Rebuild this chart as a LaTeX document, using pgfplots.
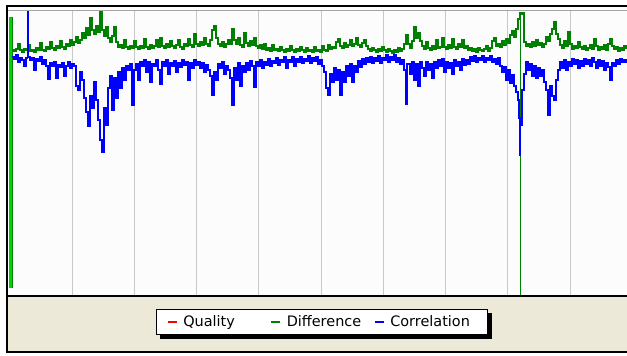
\documentclass[border=0pt]{standalone}
\usepackage{pgfplots}
\pgfplotsset{compat=1.18}
\usepackage{pgfplotstable}
\usepackage{fontspec}
\newfontfamily\legfont{DejaVu Sans}
\definecolor{beige}{RGB}{236,233,216}
\definecolor{gridgray}{RGB}{200,200,200}
\definecolor{diffgreen}{RGB}{0,128,0}
\definecolor{brightgreen}{RGB}{0,210,0}
\definecolor{corrblue}{RGB}{0,0,255}
\definecolor{qualred}{RGB}{255,0,0}
\pgfdeclarelayer{bg}
\pgfdeclarelayer{shadow}
\pgfsetlayers{bg,shadow,main}

\pgfplotstableread{
x y
12 50
14 51
16 49
18 44
20 50
22 52
24 49
26 50
28 45
30 51
32 50
34 52
36 48
38 50
40 43
42 50
44 51
46 47
48 49
50 42
52 48
54 50
56 46
58 48
60 41
62 47
64 49
66 44
68 46
70 40
72 45
74 42
76 37
78 43
80 40
82 33
84 38
86 28
88 35
90 18
92 30
94 34
96 26
98 32
100 12
102 30
104 36
106 27
108 38
110 42
112 36
114 27
116 42
118 47
120 45
122 48
124 40
126 47
128 49
130 46
132 48
134 41
136 47
138 49
140 46
142 48
144 39
146 47
148 49
150 45
152 48
154 46
156 40
158 47
160 38
162 46
164 48
166 44
168 47
170 41
172 46
174 48
176 45
178 40
180 47
182 49
184 44
186 46
188 39
190 45
192 47
194 34
196 44
198 46
200 42
202 45
204 38
206 44
208 46
210 40
212 30
214 26
216 38
218 44
220 46
222 42
224 47
226 44
228 40
230 44
232 29
234 40
236 44
238 38
240 45
242 47
244 33
246 43
248 46
250 41
252 45
254 38
256 46
258 48
260 45
262 49
264 44
266 50
268 48
270 51
272 45
274 50
276 49
278 51
280 47
282 50
284 52
286 49
288 51
290 46
292 50
294 52
296 49
298 51
300 47
302 50
304 52
306 48
308 51
310 50
312 52
314 47
316 51
318 50
320 52
322 46
324 50
326 51
328 45
330 49
332 47
334 48
336 42
338 39
340 46
342 48
344 43
346 47
348 45
350 40
352 46
354 44
356 38
358 45
360 47
362 43
364 40
366 46
368 49
370 51
372 48
374 50
376 52
378 49
380 51
382 47
384 50
386 52
388 49
390 51
392 53
394 50
396 52
398 48
400 51
402 49
404 44
406 35
408 44
410 48
412 41
414 27
416 38
418 33
420 41
422 46
424 49
426 42
428 48
430 50
432 46
434 49
436 40
438 48
440 47
442 38
444 47
446 49
448 45
450 48
452 39
454 47
456 49
458 44
460 47
462 40
464 48
466 46
468 50
470 48
472 51
474 49
476 52
478 48
480 50
482 51
484 49
486 46
488 51
490 48
492 41
494 38
496 46
498 44
500 47
502 41
504 45
506 39
508 43
510 35
512 31
514 37
516 29
518 19
519.3 13
520.2 296
520.8 13
521.5 14
523 13
524 42
526 46
528 44
530 47
532 42
534 46
536 40
538 45
540 43
542 47
544 44
546 37
548 41
550 34
552 29
554 22
556 34
558 39
560 45
562 48
564 41
566 46
568 32
570 44
572 49
574 46
576 48
578 42
580 47
582 49
584 46
586 50
588 48
590 45
592 49
594 39
596 46
598 50
600 47
602 49
604 45
606 50
608 44
610 39
612 46
614 49
616 47
618 51
620 48
622 50
624 46
626 49
}\diffdata

\pgfplotstableread{
x y
12 57
14 59
16 55
18 62
20 58
22 60
24 66
26 58
27.5 57
27.8 12
28.1 57
30 60
32 58
34 70
36 59
38 61
40 57
42 64
44 60
46 66
48 79
50 63
52 66
54 62
56 78
58 65
60 67
62 63
64 76
66 66
68 62
70 68
72 64
74 66
76 86
78 90
80 72
82 80
84 98
86 112
88 126
90 96
92 108
94 82
96 100
98 120
100 140
102 152
104 108
106 125
108 88
110 76
112 110
114 78
116 98
118 72
120 88
122 68
124 80
126 66
128 70
130 64
132 105
134 70
136 64
138 80
140 62
142 66
144 60
146 72
148 62
150 82
152 64
154 66
156 60
158 70
160 84
162 62
164 66
166 60
168 74
170 63
172 66
174 61
176 72
178 63
180 67
182 60
184 65
186 62
188 80
190 63
192 68
194 60
196 65
198 62
200 68
202 63
204 72
206 65
208 70
210 76
212 95
214 72
216 80
218 64
220 68
222 62
224 74
226 66
228 70
230 78
232 105
234 68
236 80
238 63
240 86
242 66
244 72
246 63
248 70
250 61
252 66
254 87
256 62
258 66
260 60
262 68
264 62
266 65
268 59
270 66
272 61
274 63
276 58
278 65
280 60
282 62
284 57
286 68
288 60
290 62
292 57
294 66
296 59
298 62
300 57
302 63
304 59
306 61
308 56
310 63
312 58
314 61
316 57
318 64
320 60
322 66
324 72
326 88
328 95
330 74
332 82
334 68
336 80
338 70
340 95
342 72
344 82
346 66
348 76
350 64
352 82
354 66
356 72
358 61
360 67
362 59
364 64
366 58
368 62
370 57
372 63
374 58
376 61
378 56
380 63
382 58
384 60
386 55
388 62
390 57
392 60
394 55
396 62
398 58
400 64
402 60
404 70
405.5 104
407 64
410 74
412 62
414 80
416 64
418 86
420 62
422 68
424 76
426 62
428 70
430 64
432 78
434 62
436 68
438 60
440 66
442 59
444 72
446 62
448 68
450 63
452 74
454 60
456 66
458 62
460 70
462 59
464 65
466 60
468 64
470 57
472 61
474 56
476 62
478 58
480 60
482 56
484 62
486 58
488 60
490 56
492 62
494 59
496 64
498 58
500 66
502 72
504 67
506 80
508 70
510 83
512 75
514 86
516 92
518 100
519 118
520 155
520.8 125
522 90
524 74
526 62
528 70
530 64
532 76
534 66
536 78
538 68
540 76
542 70
544 82
546 90
548 115
550 86
552 96
554 100
556 80
558 70
560 62
562 68
564 60
566 70
568 62
570 66
572 59
574 64
576 60
578 68
580 61
582 66
584 59
586 64
588 60
590 66
592 58
594 62
596 68
598 60
600 66
602 61
604 70
606 63
608 67
610 80
612 63
614 66
616 60
618 64
620 59
622 62
624 60
626 63
}\corrdata

\begin{document}
\begin{tikzpicture}
\useasboundingbox (0,0) rectangle (627bp,356bp);
\begin{pgfonlayer}{bg}
\fill[white] (0,0) rectangle (627bp,356bp);
\fill[beige] (7bp,4bp) rectangle (627bp,60bp);
\fill[white!99!black] (8bp,60bp) rectangle (627bp,349bp);
\end{pgfonlayer}
\begin{axis}[
  at={(9bp,60bp)}, anchor=south west,
  scale only axis, width=618bp, height=286bp,
  xmin=9, xmax=627, ymin=10, ymax=296, y dir=reverse,
  axis line style={draw=none},
  xtick={72.15,134.4,196.65,258.9,321.15,383.4,445.65,507.9,570.15},
  xticklabels={}, ytick=\empty, major tick length=0pt,
  xmajorgrids, grid style={gridgray, line width=1bp},
  legend columns=3,
  legend cell align=left,
  legend image code/.code={\draw[#1, line width=1.5bp] (0bp,0bp) -- (9bp,0bp);},
  legend style={name=leg, at={(0.5065,-0.0909)}, anchor=center,
    draw=black, line width=1bp, fill=white,
    font=\legfont\fontsize{14.5}{17}\selectfont,
    inner xsep=10bp, inner ysep=5.5bp,
    nodes={inner sep=1bp, text width=86bp, align=left},
    /tikz/every odd column/.append style={column sep=5bp},
    /tikz/every even column/.append style={column sep=0bp}},
]
\addplot[forget plot, brightgreen, line width=3.4bp] coordinates {(10.7,17) (10.7,288)};
\addplot[forget plot, diffgreen, line width=0.6bp] coordinates {(12.3,17) (12.3,288)};
\addlegendimage{qualred}
\addlegendentry{Quality}
\addplot[diffgreen, line width=1.25bp, const plot] table[x=x, y=y] {\diffdata};
\addlegendentry{Difference}
\addplot[corrblue, line width=1.25bp, const plot] table[x=x, y=y] {\corrdata};
\addlegendentry{Correlation}
\end{axis}
\begin{pgfonlayer}{shadow}
\fill[black] ([shift={(4bp,-4bp)}]leg.south west) rectangle ([shift={(4bp,-4bp)}]leg.north east);
\end{pgfonlayer}
\draw[gray!70, line width=0.8bp] (8bp,346bp) -- (627bp,346bp);
\draw[black, line width=2.2bp] (6bp,350bp) -- (627bp,350bp);
\draw[black, line width=2bp] (7bp,351bp) -- (7bp,3bp);
\draw[black, line width=2bp] (6bp,60bp) -- (627bp,60bp);
\draw[black, line width=2bp] (6bp,4bp) -- (627bp,4bp);
\end{tikzpicture}
\end{document}
